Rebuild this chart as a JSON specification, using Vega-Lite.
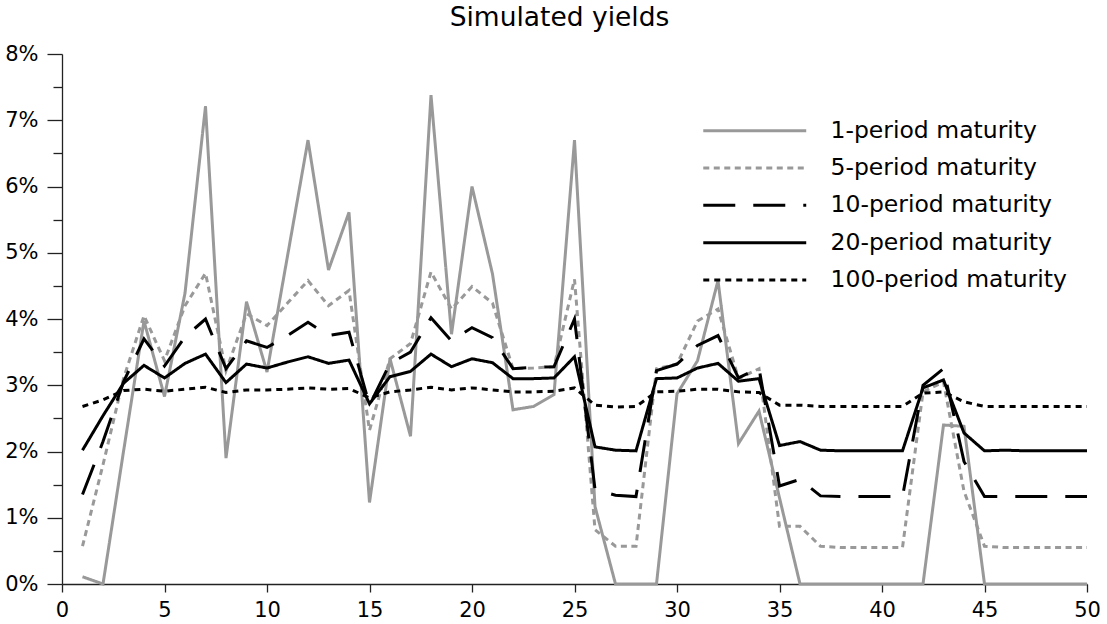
{
  "$schema": "https://vega.github.io/schema/vega-lite/v6.json",
  "width": 1025,
  "height": 530,
  "autosize": {"type": "none"},
  "padding": {"left": 62, "top": 54, "right": 20, "bottom": 40},
  "background": "white",
  "title": {"text": "Simulated yields", "fontSize": 26.5, "font": "DejaVu Sans", "fontWeight": "normal", "color": "black", "offset": 12, "dx": -15},
  "config": {"view": {"stroke": null}, "font": "DejaVu Sans"},
  "data": {"values": [
    {"t":1,"1-period maturity":0.11,"5-period maturity":0.57,"10-period maturity":1.35,"20-period maturity":2.02,"100-period maturity":2.68},
    {"t":2,"1-period maturity":0,"5-period maturity":1.8,"10-period maturity":2.15,"20-period maturity":2.54,"100-period maturity":2.78},
    {"t":3,"1-period maturity":2.0,"5-period maturity":3.1,"10-period maturity":3.05,"20-period maturity":3.03,"100-period maturity":2.92},
    {"t":4,"1-period maturity":3.97,"5-period maturity":4.05,"10-period maturity":3.7,"20-period maturity":3.3,"100-period maturity":2.94},
    {"t":5,"1-period maturity":2.83,"5-period maturity":3.37,"10-period maturity":3.29,"20-period maturity":3.11,"100-period maturity":2.91},
    {"t":6,"1-period maturity":4.39,"5-period maturity":4.2,"10-period maturity":3.73,"20-period maturity":3.33,"100-period maturity":2.94},
    {"t":7,"1-period maturity":7.21,"5-period maturity":4.69,"10-period maturity":4.0,"20-period maturity":3.47,"100-period maturity":2.97},
    {"t":8,"1-period maturity":1.9,"5-period maturity":3.22,"10-period maturity":3.25,"20-period maturity":3.04,"100-period maturity":2.89},
    {"t":9,"1-period maturity":4.26,"5-period maturity":4.08,"10-period maturity":3.67,"20-period maturity":3.32,"100-period maturity":2.93},
    {"t":10,"1-period maturity":3.2,"5-period maturity":3.9,"10-period maturity":3.57,"20-period maturity":3.26,"100-period maturity":2.93},
    {"t":11,"1-period maturity":4.95,"5-period maturity":4.24,"10-period maturity":3.75,"20-period maturity":3.35,"100-period maturity":2.94},
    {"t":12,"1-period maturity":6.7,"5-period maturity":4.58,"10-period maturity":3.95,"20-period maturity":3.43,"100-period maturity":2.96},
    {"t":13,"1-period maturity":4.74,"5-period maturity":4.2,"10-period maturity":3.75,"20-period maturity":3.33,"100-period maturity":2.94},
    {"t":14,"1-period maturity":5.61,"5-period maturity":4.43,"10-period maturity":3.8,"20-period maturity":3.38,"100-period maturity":2.95},
    {"t":15,"1-period maturity":1.23,"5-period maturity":2.32,"10-period maturity":2.7,"20-period maturity":2.72,"100-period maturity":2.81},
    {"t":16,"1-period maturity":3.4,"5-period maturity":3.4,"10-period maturity":3.33,"20-period maturity":3.13,"100-period maturity":2.9},
    {"t":17,"1-period maturity":2.23,"5-period maturity":3.63,"10-period maturity":3.5,"20-period maturity":3.21,"100-period maturity":2.93},
    {"t":18,"1-period maturity":7.38,"5-period maturity":4.71,"10-period maturity":4.02,"20-period maturity":3.47,"100-period maturity":2.97},
    {"t":19,"1-period maturity":3.77,"5-period maturity":4.15,"10-period maturity":3.67,"20-period maturity":3.28,"100-period maturity":2.93},
    {"t":20,"1-period maturity":6.0,"5-period maturity":4.49,"10-period maturity":3.87,"20-period maturity":3.4,"100-period maturity":2.96},
    {"t":21,"1-period maturity":4.68,"5-period maturity":4.24,"10-period maturity":3.72,"20-period maturity":3.34,"100-period maturity":2.93},
    {"t":22,"1-period maturity":2.63,"5-period maturity":3.25,"10-period maturity":3.25,"20-period maturity":3.1,"100-period maturity":2.9},
    {"t":23,"1-period maturity":2.68,"5-period maturity":3.26,"10-period maturity":3.27,"20-period maturity":3.1,"100-period maturity":2.9},
    {"t":24,"1-period maturity":2.86,"5-period maturity":3.28,"10-period maturity":3.28,"20-period maturity":3.11,"100-period maturity":2.91},
    {"t":25,"1-period maturity":6.7,"5-period maturity":4.6,"10-period maturity":4.0,"20-period maturity":3.43,"100-period maturity":2.96},
    {"t":26,"1-period maturity":1.17,"5-period maturity":0.82,"10-period maturity":1.43,"20-period maturity":2.07,"100-period maturity":2.7},
    {"t":27,"1-period maturity":0,"5-period maturity":0.57,"10-period maturity":1.34,"20-period maturity":2.02,"100-period maturity":2.67},
    {"t":28,"1-period maturity":0,"5-period maturity":0.57,"10-period maturity":1.32,"20-period maturity":2.01,"100-period maturity":2.68},
    {"t":29,"1-period maturity":0,"5-period maturity":3.25,"10-period maturity":3.22,"20-period maturity":3.1,"100-period maturity":2.9},
    {"t":30,"1-period maturity":2.87,"5-period maturity":3.32,"10-period maturity":3.32,"20-period maturity":3.11,"100-period maturity":2.91},
    {"t":31,"1-period maturity":3.37,"5-period maturity":3.97,"10-period maturity":3.6,"20-period maturity":3.26,"100-period maturity":2.94},
    {"t":32,"1-period maturity":4.58,"5-period maturity":4.15,"10-period maturity":3.75,"20-period maturity":3.33,"100-period maturity":2.94},
    {"t":33,"1-period maturity":2.12,"5-period maturity":3.1,"10-period maturity":3.11,"20-period maturity":3.06,"100-period maturity":2.9},
    {"t":34,"1-period maturity":2.61,"5-period maturity":3.25,"10-period maturity":3.26,"20-period maturity":3.1,"100-period maturity":2.89},
    {"t":35,"1-period maturity":1.3,"5-period maturity":0.87,"10-period maturity":1.48,"20-period maturity":2.09,"100-period maturity":2.7},
    {"t":36,"1-period maturity":0,"5-period maturity":0.87,"10-period maturity":1.58,"20-period maturity":2.15,"100-period maturity":2.7},
    {"t":37,"1-period maturity":0,"5-period maturity":0.57,"10-period maturity":1.33,"20-period maturity":2.02,"100-period maturity":2.68},
    {"t":38,"1-period maturity":0,"5-period maturity":0.55,"10-period maturity":1.32,"20-period maturity":2.01,"100-period maturity":2.68},
    {"t":39,"1-period maturity":0,"5-period maturity":0.55,"10-period maturity":1.32,"20-period maturity":2.01,"100-period maturity":2.68},
    {"t":40,"1-period maturity":0,"5-period maturity":0.55,"10-period maturity":1.32,"20-period maturity":2.01,"100-period maturity":2.68},
    {"t":41,"1-period maturity":0,"5-period maturity":0.55,"10-period maturity":1.32,"20-period maturity":2.01,"100-period maturity":2.68},
    {"t":42,"1-period maturity":0,"5-period maturity":2.9,"10-period maturity":3.0,"20-period maturity":2.96,"100-period maturity":2.88},
    {"t":43,"1-period maturity":2.4,"5-period maturity":3.05,"10-period maturity":3.25,"20-period maturity":3.08,"100-period maturity":2.9},
    {"t":44,"1-period maturity":2.38,"5-period maturity":1.4,"10-period maturity":1.85,"20-period maturity":2.28,"100-period maturity":2.75},
    {"t":45,"1-period maturity":0,"5-period maturity":0.57,"10-period maturity":1.32,"20-period maturity":2.01,"100-period maturity":2.68},
    {"t":46,"1-period maturity":0,"5-period maturity":0.55,"10-period maturity":1.32,"20-period maturity":2.02,"100-period maturity":2.68},
    {"t":47,"1-period maturity":0,"5-period maturity":0.55,"10-period maturity":1.32,"20-period maturity":2.01,"100-period maturity":2.68},
    {"t":48,"1-period maturity":0,"5-period maturity":0.55,"10-period maturity":1.32,"20-period maturity":2.01,"100-period maturity":2.68},
    {"t":49,"1-period maturity":0,"5-period maturity":0.55,"10-period maturity":1.32,"20-period maturity":2.01,"100-period maturity":2.68},
    {"t":50,"1-period maturity":0,"5-period maturity":0.55,"10-period maturity":1.32,"20-period maturity":2.01,"100-period maturity":2.68}
  ]},
  "transform": [
    {"fold": ["1-period maturity","5-period maturity","10-period maturity","20-period maturity","100-period maturity"], "as": ["series","yield"]}
  ],
  "mark": {"type": "line", "strokeWidth": 3, "strokeCap": "butt", "clip": false},
  "encoding": {
    "x": {"field": "t", "type": "quantitative",
      "scale": {"domain": [0, 50], "nice": false, "zero": false},
      "axis": {"title": null, "values": [0,5,10,15,20,25,30,35,40,45,50], "grid": false,
        "domainColor": "#222222", "domainWidth": 1.3, "tickColor": "#222222", "tickWidth": 1.3, "tickSize": 8,
        "labelFontSize": 21, "labelColor": "black", "labelPadding": 7, "labelFont": "DejaVu Sans", "labelFlush": false}},
    "y": {"field": "yield", "type": "quantitative",
      "scale": {"domain": [0, 8], "nice": false},
      "axis": {"title": null, "values": [0,0.5,1,1.5,2,2.5,3,3.5,4,4.5,5,5.5,6,6.5,7,7.5,8], "grid": false,
        "labelExpr": "datum.value % 1 === 0 ? datum.value + '%' : ''",
        "domainColor": "#222222", "domainWidth": 1.3, "tickColor": "#222222", "tickWidth": 1.3,
        "tickSize": {"expr": "datum.value % 1 === 0 ? 15 : 9"},
        "labelFontSize": 21, "labelColor": "black", "labelPadding": 9, "labelFont": "DejaVu Sans", "labelFlush": false}},
    "color": {"field": "series", "type": "nominal",
      "scale": {"domain": ["1-period maturity","5-period maturity","10-period maturity","20-period maturity","100-period maturity"],
                "range": ["#999999","#999999","#000000","#000000","#000000"]},
      "legend": {"orient": "none", "legendX": 681, "legendY": 65, "title": null, "symbolType": "M-10,0H10", "symbolSize": 106,
        "symbolStrokeWidth": 3, "labelFontSize": 23.5, "labelOffset": 64, "labelLimit": 400, "labelColor": "black", "labelFont": "DejaVu Sans",
        "padding": 0, "rowPadding": 12.3}},
    "strokeDash": {"field": "series", "type": "nominal",
      "scale": {"domain": ["1-period maturity","5-period maturity","10-period maturity","20-period maturity","100-period maturity"],
                "range": [[1,0],[6,4.5],[32,18],[1,0],[6,5]]}}
  }
}
